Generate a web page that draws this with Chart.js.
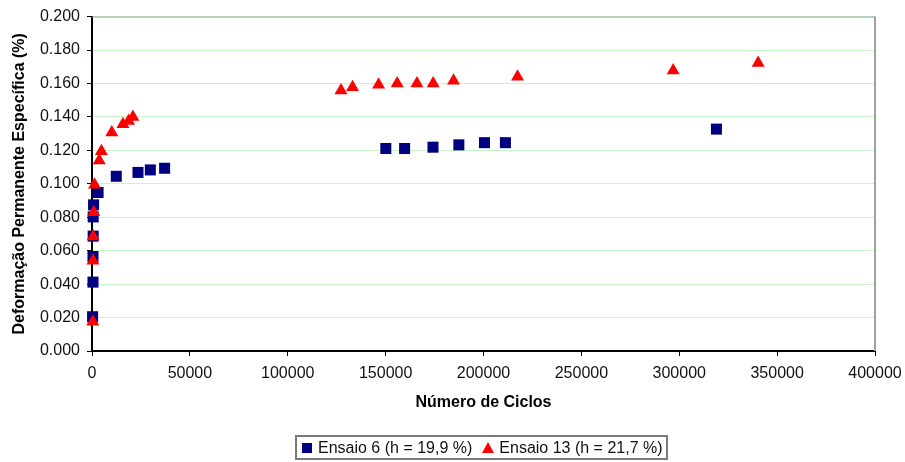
<!DOCTYPE html>
<html lang="pt">
<head>
  <meta charset="UTF-8" />
  <title>Deformação Permanente Específica x Número de Ciclos</title>
  <script src="https://cdn.jsdelivr.net/npm/chart.js"></script>
  <style>
    body {
      margin: 0;
      background: #fff;
      font-family: 'Liberation Sans', Arial, sans-serif;
    }

    .wrap {
      position: relative;
      width: 905px;
      height: 462px;
    }

    .legend {
      position: absolute;
      left: 295px;
      top: 435px;
      width: 373px;
      height: 25px;
      box-sizing: border-box;
      border: 2px solid #7a7a7a;
      display: flex;
      align-items: center;
      padding-left: 5px;
      font-size: 16px;
      color: #111;
      white-space: nowrap;
    }

    .sq {
      display: inline-block;
      width: 10px;
      height: 10px;
      background: #000080;
      margin-right: 6px;
    }

    .tri {
      display: inline-block;
      width: 0;
      height: 0;
      border-left: 6px solid transparent;
      border-right: 6px solid transparent;
      border-bottom: 11px solid #ff0000;
      margin-left: 10px;
      margin-right: 5px;
    }
  </style>
</head>
<body>
  <div class="wrap">
    <canvas id="grafico" width="905" height="462"></canvas>
    <div class="legend">
      <span class="sq"></span><span id="lbl6"></span>
      <span class="tri"></span><span id="lbl13"></span>
    </div>
  </div>

  <script>
    // Ensaio 6
    const ciclos6 = [300, 500, 500, 600, 600, 800, 3100, 12400, 23500, 29800, 37100,
      150100, 159700, 174200, 187400, 200500, 211200, 319000];
    const deform6 = [0.0205, 0.0412, 0.0565, 0.0687, 0.0802, 0.0874, 0.0948, 0.1045, 0.1068, 0.1083, 0.1093,
      0.1211, 0.1211, 0.1219, 0.1233, 0.1246, 0.1246, 0.1327];

    // Ensaio 13
    const ciclos13 = [400, 500, 600, 900, 1300, 3700, 4800, 10100, 15800, 18700, 20900,
      127200, 133100, 146400, 155900, 166000, 174300, 184700, 217400, 296900, 340300];
    const deform13 = [0.0175, 0.054, 0.0685, 0.083, 0.0995, 0.114, 0.1195, 0.1307, 0.1356, 0.1376, 0.1399,
      0.1558, 0.1578, 0.1592, 0.160, 0.160, 0.160, 0.1617, 0.164, 0.1678, 0.1723];

    const nomes = ['Ensaio 6 (h = 19,9 %)', 'Ensaio 13 (h = 21,7 %)'];

    document.getElementById('lbl6').textContent = nomes[0];
    document.getElementById('lbl13').textContent = nomes[1];

    Chart.defaults.font.family = "'Liberation Sans', Arial, sans-serif";
    Chart.defaults.color = '#111';

    const toPoints = (xs, ys) => xs.map((x, i) => ({ x: x, y: ys[i] }));

    // borda cinza em cima e à direita da área do gráfico
    const moldura = {
      id: 'moldura',
      beforeDatasetsDraw(chart) {
        const { ctx, chartArea: a } = chart;
        ctx.save();
        ctx.strokeStyle = '#a0a0a0';
        ctx.lineWidth = 1;
        ctx.beginPath();
        ctx.moveTo(a.left, a.top + 0.5);
        ctx.lineTo(a.right, a.top + 0.5);
        ctx.stroke();
        ctx.lineWidth = 2;
        ctx.beginPath();
        ctx.moveTo(a.right, a.top);
        ctx.lineTo(a.right, a.bottom);
        ctx.stroke();
        ctx.restore();
      }
    };

    new Chart(document.getElementById('grafico'), {
      type: 'scatter',
      data: {
        datasets: [
          {
            label: nomes[0],
            data: toPoints(ciclos6, deform6),
            pointStyle: 'rect',
            pointRadius: 7.8,
            pointHoverRadius: 7.8,
            backgroundColor: '#000080',
            borderColor: '#000080',
            borderWidth: 0,
            clip: false,
            order: 1
          },
          {
            label: nomes[1],
            data: toPoints(ciclos13, deform13),
            pointStyle: 'triangle',
            pointRadius: 7.5,
            pointHoverRadius: 7.5,
            backgroundColor: '#ff0000',
            borderColor: '#ff0000',
            borderWidth: 0,
            clip: false,
            order: 0
          }
        ]
      },
      options: {
        responsive: false,
        animation: false,
        layout: {
          padding: { left: 0, right: 30, top: 15, bottom: 49 }
        },
        scales: {
          x: {
            type: 'linear',
            min: 0,
            max: 400000,
            afterFit: s => { s.height = 62; s.paddingRight = 28; },
            ticks: {
              stepSize: 50000,
              padding: 8,
              font: { size: 16 },
              maxRotation: 0,
              callback: v => String(v)
            },
            grid: {
              drawOnChartArea: false,
              tickColor: '#000',
              tickLength: 5
            },
            border: { color: '#000', width: 2 },
            title: {
              display: true,
              text: 'Número de Ciclos',
              font: { size: 16, weight: 'bold' },
              color: '#000',
              padding: { top: 0, bottom: 1 }
            }
          },
          y: {
            min: 0,
            max: 0.2,
            afterFit: s => { s.width = 92; },
            ticks: {
              stepSize: 0.02,
              padding: 7,
              font: { size: 16 },
              callback: v => v.toFixed(3)
            },
            grid: {
              color: '#c8f5c8',
              lineWidth: 1,
              tickColor: '#000',
              tickLength: 5
            },
            border: { color: '#000', width: 2 },
            title: {
              display: true,
              text: 'Deformação Permanente Específica (%)',
              font: { size: 16, weight: 'bold' },
              color: '#000',
              padding: { top: 10, bottom: 0 }
            }
          }
        },
        plugins: {
          legend: { display: false },
          tooltip: { enabled: false }
        }
      },
      plugins: [moldura]
    });
  </script>
</body>
</html>
